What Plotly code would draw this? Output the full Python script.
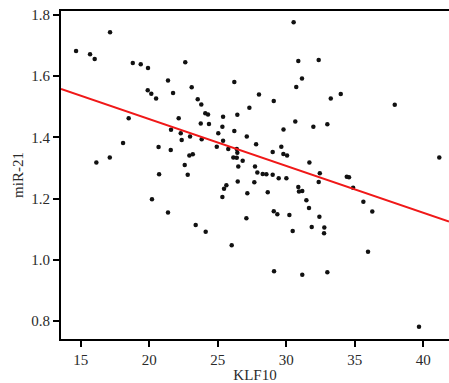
import plotly.graph_objects as go

klf10 = [14.66, 15.68, 16.02, 17.14, 18.80, 19.38, 19.91, 19.89, 20.15, 20.50,
         18.50, 30.54, 22.63, 30.88, 31.15, 30.73, 21.37, 23.10, 26.21, 21.74,
         23.54, 23.80, 28.01, 29.09, 27.31, 24.09, 24.29, 22.15, 25.39, 26.43,
         23.76, 24.36, 25.34, 30.66, 29.80, 32.37, 33.25, 33.98, 37.92, 31.98,
         33.00, 16.14, 17.12, 18.09, 20.68, 20.72, 20.20, 21.59, 22.30, 22.37,
         22.98, 23.83, 25.04, 26.21, 27.12, 25.39, 21.57, 24.93, 25.77, 26.39,
         27.80, 29.64, 29.01, 29.79, 30.06, 26.43, 22.93, 23.18, 26.14, 26.39,
         26.82, 22.59, 26.50, 27.72, 31.69, 22.81, 27.89, 28.28, 28.55, 29.01,
         29.45, 30.01, 26.46, 27.67, 25.63, 25.46, 25.34, 27.16, 28.65, 30.88,
         30.93, 31.17, 31.47, 31.66, 21.37, 29.09, 29.35, 30.23, 27.09, 23.39,
         24.12, 30.47, 26.02, 41.17, 32.45, 32.37, 34.42, 34.58, 34.88, 35.63,
         36.28, 32.42, 31.86, 32.78, 32.76, 29.11, 31.17, 33.00, 35.97, 39.69]
mir21 = [1.682, 1.672, 1.656, 1.744, 1.643, 1.639, 1.627, 1.554, 1.543, 1.527,
         1.463, 1.776, 1.646, 1.650, 1.593, 1.565, 1.586, 1.564, 1.581, 1.545,
         1.525, 1.508, 1.540, 1.519, 1.497, 1.479, 1.475, 1.463, 1.468, 1.474,
         1.446, 1.444, 1.435, 1.452, 1.426, 1.653, 1.527, 1.542, 1.507, 1.435,
         1.443, 1.318, 1.335, 1.382, 1.369, 1.280, 1.198, 1.425, 1.414, 1.392,
         1.403, 1.394, 1.414, 1.421, 1.403, 1.389, 1.359, 1.370, 1.362, 1.362,
         1.378, 1.370, 1.353, 1.346, 1.341, 1.350, 1.341, 1.345, 1.335, 1.334,
         1.324, 1.310, 1.305, 1.305, 1.318, 1.278, 1.286, 1.281, 1.280, 1.278,
         1.267, 1.267, 1.256, 1.254, 1.244, 1.233, 1.206, 1.218, 1.221, 1.238,
         1.224, 1.225, 1.195, 1.170, 1.155, 1.159, 1.149, 1.147, 1.136, 1.114,
         1.092, 1.095, 1.048, 1.335, 1.283, 1.255, 1.272, 1.270, 1.236, 1.190,
         1.158, 1.141, 1.108, 1.106, 1.087, 0.963, 0.952, 0.960, 1.027, 0.782]

fit_slope = -0.01529
fit_intercept = 1.766

x_range = [13.56, 41.88]
y_range = [0.742, 1.813]
x_ticks = [15, 20, 25, 30, 35, 40]
y_ticks = [0.8, 1.0, 1.2, 1.4, 1.6, 1.8]

fig = go.Figure()
fig.add_trace(go.Scatter(
    x=klf10, y=mir21, mode="markers",
    marker=dict(color="#111111", size=4.5),
    showlegend=False, hoverinfo="skip", cliponaxis=False))
fit_x = list(x_range)
fit_y = [fit_intercept + fit_slope * v for v in fit_x]
fig.add_trace(go.Scatter(
    x=fit_x, y=fit_y, mode="lines",
    line=dict(color="#f01818", width=2),
    showlegend=False, hoverinfo="skip"))

font = dict(family="Liberation Serif", size=15, color="#2a2a2a")
fig.update_layout(
    width=449, height=383,
    margin=dict(l=61, r=0, t=11, b=44, autoexpand=False),
    paper_bgcolor="white", plot_bgcolor="white",
    font=font,
    xaxis=dict(range=x_range, tickvals=x_ticks, ticktext=[str(t) for t in x_ticks],
               showgrid=False, zeroline=False, showline=True, linecolor="black",
               linewidth=2, mirror=True, ticks="outside", ticklen=6, tickwidth=2,
               tickcolor="black", tickfont=font, automargin=False,
               title=dict(text="KLF10", font=font, standoff=2)),
    yaxis=dict(range=y_range, tickvals=y_ticks, ticktext=["0.8", "1.0", "1.2", "1.4", "1.6", "1.8"],
               showgrid=False, zeroline=False, showline=True, linecolor="black",
               linewidth=2, ticks="outside", ticklen=6, tickwidth=2,
               tickcolor="black", tickfont=font, automargin=False,
               title=dict(text="miR-21", font=font, standoff=4)),
)
fig.write_html("out.html", config={"displayModeBar": False},
               post_script="document.body.style.margin='0';document.body.style.overflow='hidden';")
